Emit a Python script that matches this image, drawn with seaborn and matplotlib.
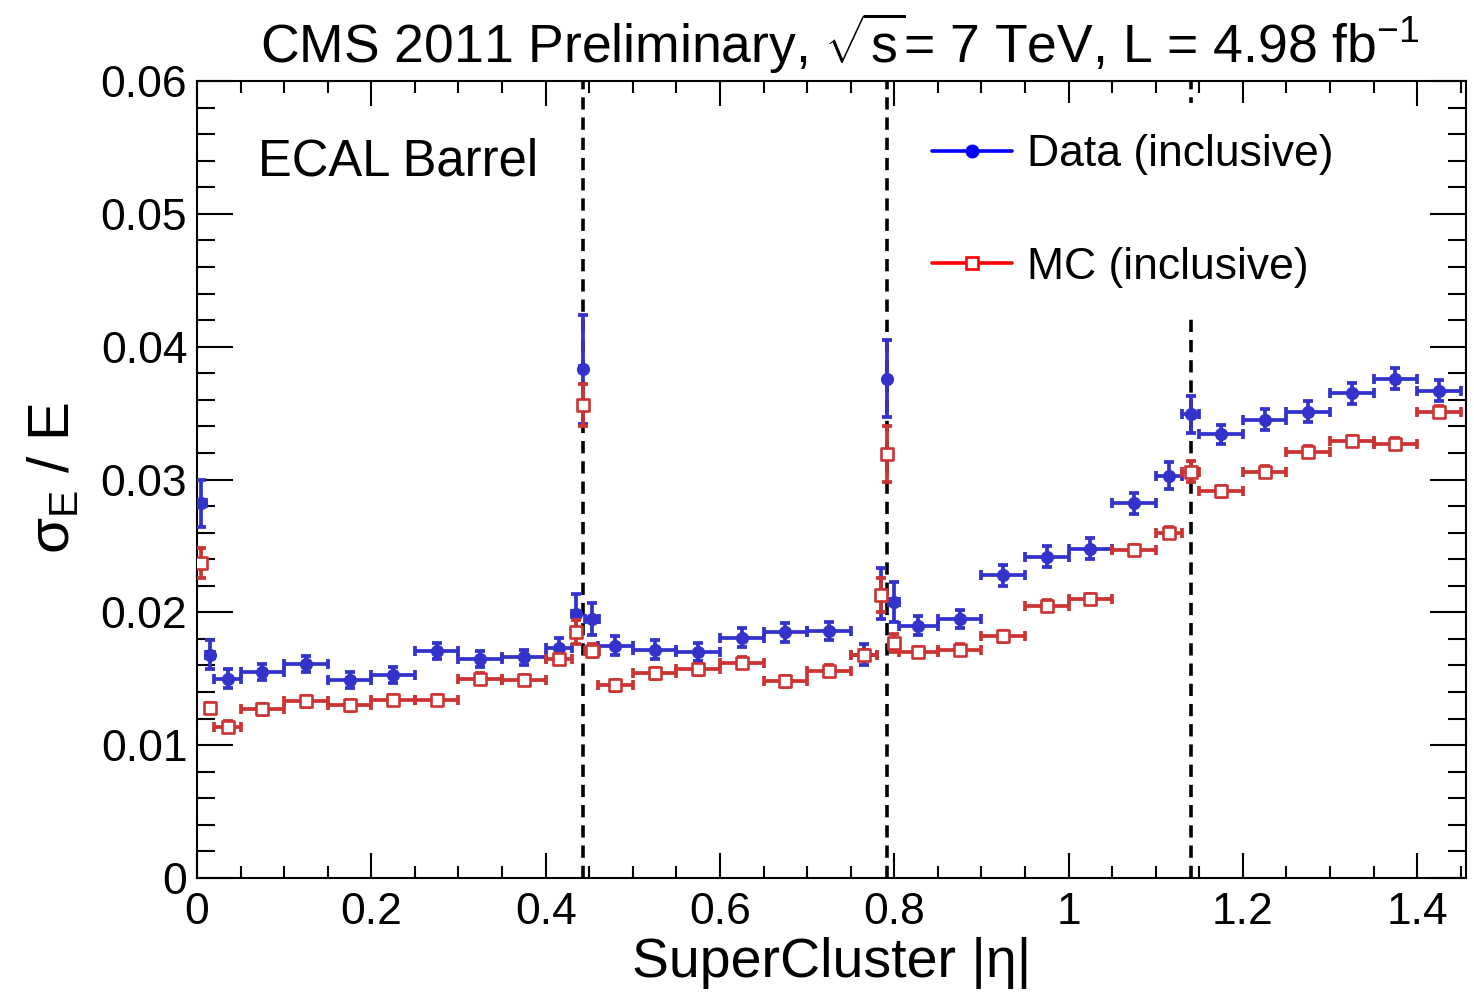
import numpy as np
import pandas as pd
import matplotlib
matplotlib.use("Agg")
import matplotlib.pyplot as plt
from matplotlib.lines import Line2D
from matplotlib.ticker import FixedLocator, FixedFormatter, MultipleLocator
import seaborn as sns

# ---------------- data ----------------
eta_center = [0.005, 0.015, 0.035, 0.075, 0.125, 0.175, 0.225, 0.275, 0.325, 0.375,
              0.415, 0.435, 0.443, 0.453, 0.480, 0.525, 0.575, 0.625, 0.675, 0.725,
              0.765, 0.785, 0.792, 0.800, 0.8275, 0.875, 0.925, 0.975, 1.025, 1.075,
              1.115, 1.140, 1.175, 1.225, 1.275, 1.325, 1.375, 1.425]
eta_halfwidth = [0.005, 0.005, 0.015, 0.025, 0.025, 0.025, 0.025, 0.025, 0.025, 0.025,
                 0.015, 0.005, 0.003, 0.008, 0.020, 0.025, 0.025, 0.025, 0.025, 0.025,
                 0.015, 0.005, 0.002, 0.006, 0.0225, 0.025, 0.025, 0.025, 0.025, 0.025,
                 0.015, 0.010, 0.025, 0.025, 0.025, 0.025, 0.025, 0.025]
data_sigma = [0.0282, 0.0168, 0.0150, 0.0155, 0.0161, 0.0149, 0.0153, 0.0171, 0.0165, 0.0166,
              0.0173, 0.0199, 0.0383, 0.0195, 0.0175, 0.0172, 0.0170, 0.0181, 0.0185, 0.0186,
              0.0168, 0.0214, 0.0376, 0.0208, 0.0190, 0.0195, 0.0228, 0.0242, 0.0248, 0.0282,
              0.0303, 0.0349, 0.0334, 0.0345, 0.0351, 0.0365, 0.0376, 0.0367]
data_err = [0.00175, 0.0011, 0.0007, 0.0006, 0.0006, 0.0006, 0.0006, 0.0006, 0.0006, 0.0006,
            0.0008, 0.0015, 0.0041, 0.0012, 0.0007, 0.0007, 0.0007, 0.0007, 0.0007, 0.0007,
            0.0008, 0.0019, 0.0029, 0.0015, 0.0007, 0.0007, 0.0008, 0.0008, 0.0008, 0.0008,
            0.0010, 0.0014, 0.0007, 0.0008, 0.0008, 0.0008, 0.0008, 0.0008]
mc_sigma = [0.0237, 0.0128, 0.0114, 0.0127, 0.0133, 0.0130, 0.0134, 0.0134, 0.0150, 0.0149,
            0.0165, 0.0185, 0.0356, 0.0171, 0.0145, 0.0154, 0.0157, 0.0162, 0.0148, 0.0156,
            0.0168, 0.0213, 0.0319, 0.0177, 0.0170, 0.0172, 0.0182, 0.0205, 0.0210, 0.0247,
            0.0260, 0.0306, 0.0291, 0.0306, 0.0321, 0.0329, 0.0327, 0.0351]
mc_err = [0.00115, 0.0004, 0.0004, 0.0004, 0.0004, 0.0004, 0.0004, 0.0004, 0.0004, 0.0004,
          0.0004, 0.0009, 0.0016, 0.0005, 0.0004, 0.0004, 0.0004, 0.0004, 0.0004, 0.0004,
          0.0004, 0.0013, 0.0021, 0.0007, 0.0004, 0.0004, 0.0004, 0.0004, 0.0004, 0.0004,
          0.0004, 0.0008, 0.0004, 0.0004, 0.0004, 0.0004, 0.0004, 0.0004]
module_boundaries = [0.443, 0.792, 1.141]

x_ticks = [0.0, 0.2, 0.4, 0.6, 0.8, 1.0, 1.2, 1.4]
x_ticklabels = ["0", "0.2", "0.4", "0.6", "0.8", "1", "1.2", "1.4"]
y_ticks = [0.0, 0.01, 0.02, 0.03, 0.04, 0.05, 0.06]
y_ticklabels = ["0", "0.01", "0.02", "0.03", "0.04", "0.05", "0.06"]

series_labels = ["Data (inclusive)", "MC (inclusive)"]
title_text = r"CMS 2011 Preliminary, $\sqrt{\mathrm{s}}$= 7 TeV, L = 4.98 fb$^{\mathrm{-1}}$"
xlabel_text = "SuperCluster |η|"
ylabel_text = r"$\mathrm{\sigma}_{\mathrm{E}}$ / E"
region_text = "ECAL Barrel"

# ---------------- style ----------------
sns.set_theme(style="ticks")
plt.rcParams["font.family"] = ["Liberation Sans", "DejaVu Sans"]
plt.rcParams["mathtext.fontset"] = "custom"
plt.rcParams["mathtext.rm"] = "Liberation Sans"
plt.rcParams["mathtext.it"] = "Liberation Sans:italic"
plt.rcParams["mathtext.bf"] = "Liberation Sans:bold"
plt.rcParams["mathtext.sf"] = "Liberation Sans"
for k in ["text.color", "axes.labelcolor", "xtick.color", "ytick.color", "axes.edgecolor"]:
    plt.rcParams[k] = "black"

DATA_COLOR = "#3333CC"
MC_COLOR = "#CC3333"

df = pd.DataFrame({
    "eta": eta_center,
    "halfwidth": eta_halfwidth,
    "data": data_sigma,
    "data_err": data_err,
    "mc": mc_sigma,
    "mc_err": mc_err,
})

fig = plt.figure(figsize=(14.74, 9.92), dpi=100)
ax = fig.add_axes([197 / 1474, 1 - 878 / 992, (1466 - 197) / 1474, (878 - 81) / 992])

# module boundary lines
for b in module_boundaries:
    ax.axvline(b, color="black", lw=2.6, ls=(0, (3.4, 2.2)), zorder=1)

# Data
ax.errorbar(df["eta"], df["data"], xerr=df["halfwidth"], yerr=df["data_err"], fmt="none",
            ecolor=DATA_COLOR, elinewidth=2.7, capsize=3.3, capthick=2.7, zorder=3)
sns.scatterplot(data=df, x="eta", y="data", ax=ax, color=DATA_COLOR, marker="o", s=90,
                edgecolor=DATA_COLOR, linewidth=0, zorder=4, legend=False)

# MC
ax.errorbar(df["eta"], df["mc"], xerr=df["halfwidth"], yerr=df["mc_err"], fmt="none",
            ecolor=MC_COLOR, elinewidth=2.7, capsize=3.3, capthick=2.7, zorder=5)
ax.scatter(df["eta"], df["mc"], marker="s", s=80, facecolors="white",
           edgecolors=MC_COLOR, linewidths=1.9, zorder=6)

# axes
ax.set_xlim(0, 1.456)
ax.set_ylim(0, 0.06)
ax.xaxis.set_major_locator(FixedLocator(x_ticks))
ax.xaxis.set_major_formatter(FixedFormatter(x_ticklabels))
ax.xaxis.set_minor_locator(MultipleLocator(0.05))
ax.yaxis.set_major_locator(FixedLocator(y_ticks))
ax.yaxis.set_major_formatter(FixedFormatter(y_ticklabels))
ax.yaxis.set_minor_locator(MultipleLocator(0.002))

ax.tick_params(axis="both", which="both", direction="in", top=True, right=True,
               color="black", labelcolor="black", width=1.5)
ax.tick_params(axis="x", which="major", length=18, labelsize=32, pad=10)
ax.tick_params(axis="x", which="minor", length=8.6)
ax.tick_params(axis="y", which="major", length=26, labelsize=32, pad=7)
ax.tick_params(axis="y", which="minor", length=13)
for sp in ax.spines.values():
    sp.set_linewidth(1.5)
    sp.set_color("black")
    sp.set_visible(True)

ax.set_xlabel(xlabel_text, fontsize=40, labelpad=3, color="black")
ax.set_ylabel("")
fig.text(54 / 1474, 1 - 478 / 992, ylabel_text, rotation=90, fontsize=42,
         ha="center", va="center", color="black")

fig.text(840 / 1474, 1 - 63 / 992, title_text, fontsize=38.5, ha="center", va="baseline",
         color="black")
ax.text(0.048, 0.898, region_text, transform=ax.transAxes, fontsize=36.5,
        ha="left", va="center", color="black")

handles = [
    Line2D([], [], color="blue", lw=2.6, marker="o", ms=9, mfc="blue", mec="blue"),
    Line2D([], [], color="red", lw=2.6, marker="s", ms=9, mfc="white", mec="red", mew=1.9),
]
leg = ax.legend(handles, series_labels, loc="upper left", bbox_to_anchor=(0.555, 0.972),
                borderaxespad=0, fontsize=32, handlelength=1.78, handletextpad=0.35,
                labelspacing=1.6, borderpad=0.7, frameon=True, framealpha=1,
                facecolor="white", edgecolor="none", fancybox=False)
for t in leg.get_texts():
    t.set_color("black")
leg.set_zorder(10)

fig.savefig("out.png", dpi=100)
